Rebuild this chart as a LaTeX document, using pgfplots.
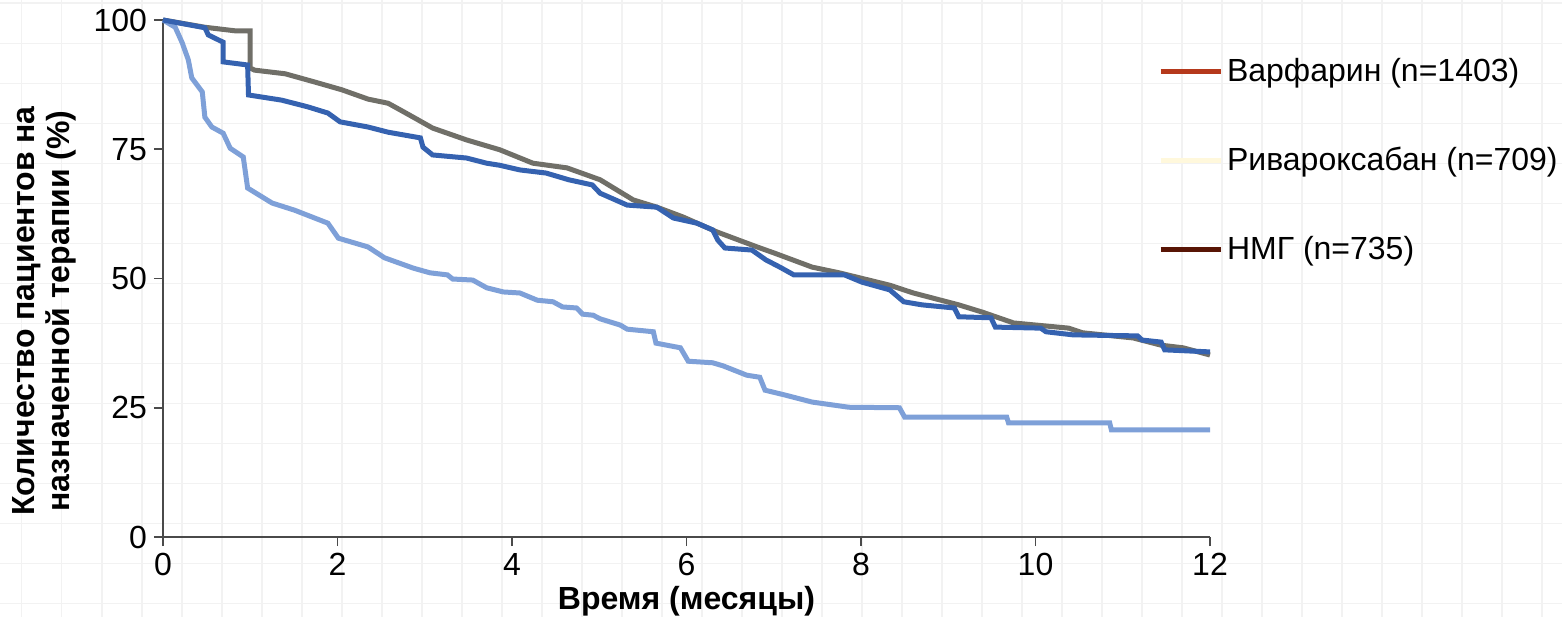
\documentclass[border=0pt]{standalone}
\usepackage{fontspec}
\setmainfont{Liberation Sans}
\usepackage{pgfplots}
\pgfplotsset{compat=1.18}
\definecolor{cgray}{HTML}{706F68}
\definecolor{cdark}{HTML}{3562B0}
\definecolor{clight}{HTML}{7EA0D8}
\definecolor{lwarf}{HTML}{B5391C}
\definecolor{lriva}{HTML}{FFF8DC}
\definecolor{lnmg}{HTML}{581505}
\definecolor{axgray}{HTML}{4A4A4A}
\definecolor{bggrid}{HTML}{F2F2F2}
\newcommand\f{\fontsize{16pt}{17.5pt}\selectfont}

\begin{document}
\begin{tikzpicture}
\useasboundingbox (-81.5pt,-40pt) rectangle (699.5pt,268.5pt);
\foreach \k in {0,...,39} \draw[bggrid, line width=0.8pt] ({-70.65pt+\k*20pt},-40pt) -- ({-70.65pt+\k*20pt},268.5pt);
\foreach \k in {0,...,15} \draw[bggrid, line width=0.8pt] (-81.5pt,{266.85pt-\k*20pt}) -- (699.5pt,{266.85pt-\k*20pt});
\begin{axis}[
  scale only axis, width=523.5pt, height=258.5pt,
  xmin=0, xmax=12, ymin=0, ymax=100,
  clip=false,
  axis lines=left, axis line style={-, axgray, line width=0.9pt},
  xtick={0,2,...,12}, ytick={0,25,50,75,100},
  tick align=outside, major tick length=4.5pt, tick style={axgray, line width=0.9pt},
  /pgf/number format/assume math mode=true,
  tick label style={font=\f},
  xlabel={Время (месяцы)},
  ylabel={Количество пациентов на\\назначенной терапии (\%)},
  xlabel style={font=\f\bfseries, at={(axis description cs:0.5,-0.125)}, anchor=center},
  ylabel style={font=\f\bfseries, at={(axis description cs:-0.113,0.437)}, anchor=center, align=center},
  legend style={font=\f, draw=none, fill=none, at={(axis description cs:0.95,0.935)}, anchor=north west, row sep=27.5pt, inner sep=0pt, cells={anchor=west}},
  legend image code/.code={\draw[line width=2.5pt,#1] (0pt,0pt) -- (30pt,0pt);},
]
\addplot[cgray, line width=2.5pt, forget plot] coordinates {
(0,100) (0.48,98.6) (0.83,97.9) (1.0,97.9) (1.0,90.7) (1.05,90.3) (1.40,89.6) (1.74,88.0) (2.05,86.5) (2.35,84.7) (2.58,83.9) (2.72,82.6) (2.89,81.0) (3.09,79.1) (3.48,76.8) (3.86,74.9) (4.24,72.3) (4.63,71.4) (5.01,69.1) (5.39,65.2) (5.66,63.8) (5.96,61.9) (6.35,59.0) (6.81,56.1) (7.01,54.9) (7.44,52.2) (7.75,51.1) (8.33,48.7) (8.60,47.2) (9.12,44.9) (9.39,43.5) (9.75,41.4) (10.38,40.4) (10.54,39.5) (11.12,38.5) (11.44,37.1) (11.69,36.6) (12.0,35.2)
};
\addplot[clight, line width=2.5pt, forget plot] coordinates {
(0,100) (0.14,98.6) (0.22,95.6) (0.29,92.3) (0.33,88.8) (0.45,86.1) (0.48,81.2) (0.56,79.3) (0.69,78.1) (0.77,75.2) (0.92,73.5) (0.97,67.5) (1.25,64.6) (1.51,63.2) (1.89,60.7) (2.01,57.8) (2.35,56.1) (2.54,54.0) (2.87,52.0) (3.06,51.1) (3.26,50.7) (3.32,49.9) (3.55,49.7) (3.71,48.2) (3.90,47.4) (4.09,47.2) (4.29,45.8) (4.47,45.5) (4.58,44.5) (4.74,44.3) (4.81,43.1) (4.93,42.9) (5.01,42.2) (5.24,41.0) (5.32,40.2) (5.62,39.7) (5.65,37.5) (5.93,36.6) (6.02,34.0) (6.30,33.7) (6.42,33.1) (6.69,31.3) (6.84,30.9) (6.90,28.4) (7.12,27.5) (7.44,26.1) (7.86,25.1) (8.44,25.0) (8.50,23.2) (9.67,23.2) (9.69,22.1) (10.85,22.1) (10.87,20.7) (12.0,20.7)
};
\addplot[cdark, line width=2.5pt, forget plot] coordinates {
(0,100) (0.48,98.5) (0.52,97.1) (0.69,95.7) (0.69,91.9) (0.97,91.3) (0.98,85.5) (1.36,84.5) (1.66,83.2) (1.89,82.0) (2.03,80.3) (2.35,79.3) (2.58,78.3) (2.95,77.2) (2.98,75.4) (3.09,73.9) (3.48,73.3) (3.71,72.3) (3.86,71.9) (4.09,71.0) (4.39,70.4) (4.65,69.1) (4.92,68.1) (5.01,66.5) (5.32,64.2) (5.66,63.8) (5.85,61.7) (6.12,60.7) (6.30,59.4) (6.36,57.4) (6.44,55.9) (6.75,55.5) (6.91,53.6) (7.07,52.2) (7.23,50.7) (7.81,50.7) (8.01,49.3) (8.33,47.8) (8.49,45.5) (8.70,44.9) (9.07,44.3) (9.12,42.6) (9.49,42.4) (9.54,40.6) (10.06,40.4) (10.12,39.7) (10.43,39.1) (11.17,38.9) (11.22,38.1) (11.44,37.7) (11.48,36.2) (12.0,35.8)
};
\addlegendimage{lwarf}
\addlegendentry{Варфарин (n=1403)}
\addlegendimage{lriva}
\addlegendentry{Ривароксабан (n=709)}
\addlegendimage{lnmg}
\addlegendentry{НМГ (n=735)}
\end{axis}
\end{tikzpicture}
\end{document}
